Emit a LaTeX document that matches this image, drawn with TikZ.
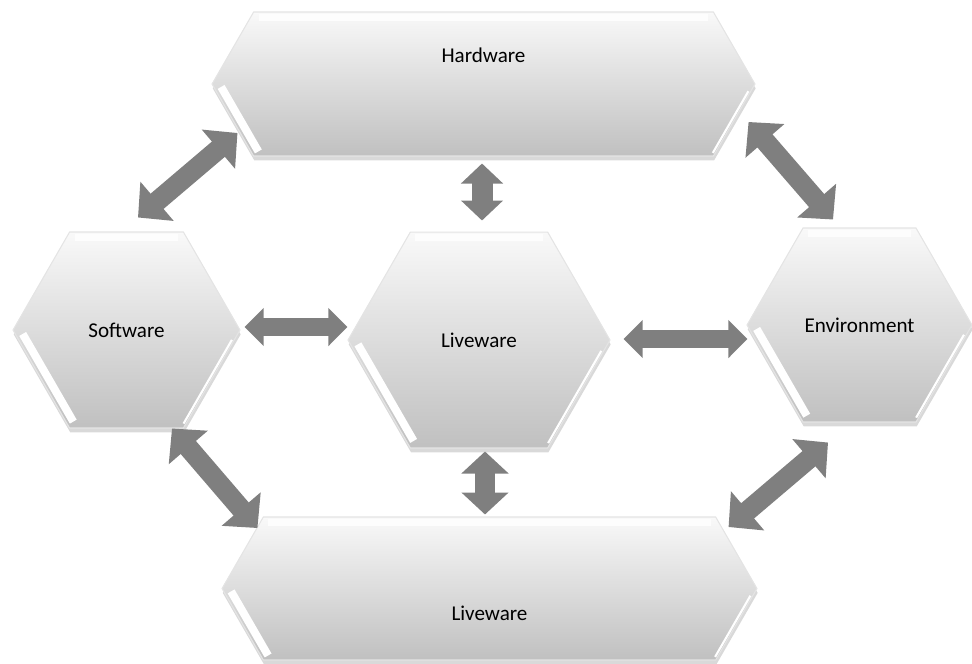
\documentclass[tikz,border=0pt]{standalone}
\usepackage{fontspec}
\setmainfont{Carlito}
\usepackage{xcolor}
\definecolor{shelltop}{HTML}{F9F9F9}
\definecolor{shellbot}{HTML}{C0C0C0}
\definecolor{shellrim}{HTML}{E4E4E4}
\definecolor{shellgray}{HTML}{7F7F7F}
\usetikzlibrary{arrows.meta,positioning,shapes.symbols,shadows,calc}
\tikzset{
  shellbox/.style={shape=signal,signal to=west and east,signal pointer angle=120,inner sep=0pt,
    top color=shelltop,bottom color=shellbot,draw=shellrim,line width=0.6pt,
    drop shadow={shadow xshift=0.4pt,shadow yshift=-2.5pt,opacity=0.3},font=\fontsize{12}{14}\selectfont},
  shelltext/.style={inner sep=1pt,font=\fontsize{12}{14}\selectfont},
  shellbevel/.style={white,line width=4.5pt},
  shellshine/.style={white,line width=4pt,opacity=0.85},
  shellgloss/.style={white,line width=1.2pt},
  shelllink/.style={draw=shellgray,line width=0.4cm,>={Triangle[width=1cm,length=0.5cm]},<->},
  stublink/.style={draw=shellgray,line width=0.42cm,>={Triangle[width=0.82cm,length=0.4cm]},<->},
  flatlink/.style={draw=shellgray,line width=0.36cm,>={Triangle[width=0.74cm,length=0.38cm]},<->},
  droplink/.style={draw=shellgray,line width=0.4cm,>={Triangle[width=0.92cm,length=0.44cm]},<->},
}
\begin{document}
\begin{tikzpicture}[x=0.02cm,y=-0.02cm]
\useasboundingbox (0,0) rectangle (972,663);
% SHELL blocks
\node[shellbox,minimum width=10.86cm,minimum height=2.88cm] (hw) at (483.5,84) {};
\node[shellbox,minimum width=4.54cm,minimum height=3.92cm] (sw) at (126.5,330) {Software};
\node[shellbox,minimum width=5.24cm,minimum height=4.32cm] (lw) at (479,340) {Liveware};
\node[shellbox,minimum width=4.5cm,minimum height=3.88cm] (ev) at (859.5,325) {Environment};
\node[shellbox,minimum width=10.7cm,minimum height=2.86cm] (lb) at (489.5,588.5) {};
\node[shelltext] (hwtext) at ($(hw.center)+(0,-29)$) {Hardware};
\node[shelltext] (lbtext) at ($(lb.center)+(0,24.5)$) {Liveware};
% bevel highlights
\foreach \b in {hw,sw,lw,ev,lb}{
  \draw[shellbevel] let \p1=(\b.west),\p2=(\b.south) in
    ($(\p1)!0.04!({\x1+0.577*(\y1-\y2)},\y2)+(8,0)$) -- ($(\p1)!0.93!({\x1+0.577*(\y1-\y2)},\y2)+(8,0)$);
  \draw[shellgloss] let \p1=(\b.east),\p2=(\b.south) in
    ($(\p1)!0.1!({\x1-0.577*(\y1-\y2)},\y2)+(-3,0)$) -- ($(\p1)!0.95!({\x1-0.577*(\y1-\y2)},\y2)+(-3,0)$);
  \draw[shellshine] let \p1=(\b.west),\p2=(\b.north),\p3=(\b.east) in
    ({\x1+0.577*(\y2-\y1)+3pt},{\y2-3.5pt}) -- ({\x3-0.577*(\y2-\y1)-3pt},{\y2-3.5pt});
}
% interfaces
\draw[shelllink] ($(sw.north)+(11.5,-14)$) -- ($(hw.west)+(26,49)$);
\draw[shelllink] ($(hw.east)+(-7,38)$) -- ($(ev.north)+(-26.5,-8)$);
\draw[stublink] ($(hw.south)+(-1.5,7)$) -- ($(lw.north)+(3,-11)$);
\draw[flatlink] ($(sw.east)+(4,-3)$) -- ($(lw.west)+(0,-13)$);
\draw[flatlink] ($(lw.east)+(13,-1)$) -- ($(ev.west)+(1,14)$);
\draw[droplink] ($(lw.south)+(6,3)$) -- ($(lb.north)+(-4.5,-2)$);
\draw[shelllink] ($(sw.south)+(45.5,0)$) -- ($(lb.west)+(36,-60.5)$);
\draw[shelllink] ($(ev.south)+(-31.5,20)$) -- ($(lb.east)+(-29,-61.5)$);
\end{tikzpicture}
\end{document}
